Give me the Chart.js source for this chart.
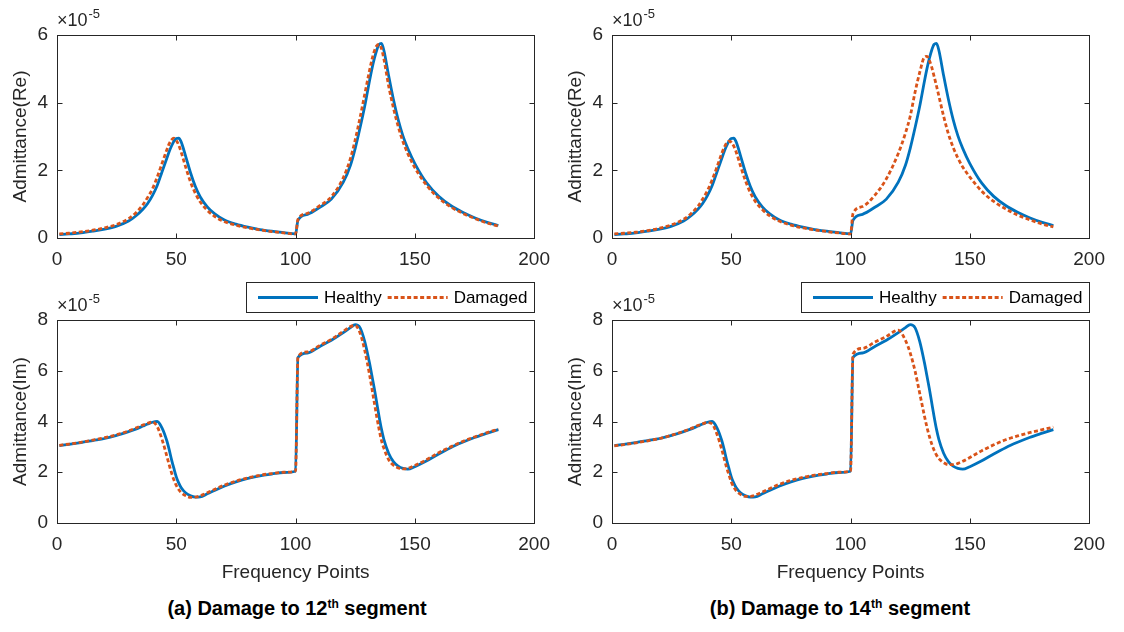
<!DOCTYPE html>
<html><head><meta charset="utf-8">
<script src="https://cdn.jsdelivr.net/npm/chart.js@4.4.0/dist/chart.umd.min.js"></script>
<style>
html,body{margin:0;padding:0;background:#fff;width:1124px;height:632px;overflow:hidden;}
canvas{position:absolute;}
.caption{position:absolute;font-family:"Liberation Sans",Arial,Helvetica,sans-serif;font-weight:bold;font-size:20px;color:#000;white-space:nowrap;transform:translateX(-50%);line-height:24px;}
.caption sup{font-size:12px;position:relative;top:-0.6em;vertical-align:baseline;line-height:0;}
</style></head><body>
<canvas id="c1" width="560" height="270" style="left:0;top:0"></canvas>
<canvas id="c2" width="560" height="270" style="left:555px;top:0"></canvas>
<canvas id="c3" width="560" height="320" style="left:0;top:270px"></canvas>
<canvas id="c4" width="560" height="320" style="left:555px;top:270px"></canvas>
<div class="caption" style="left:297px;top:596px">(a) Damage to 12<sup>th</sup> segment</div>
<div class="caption" style="left:840px;top:596px">(b) Damage to 14<sup>th</sup> segment</div>
<script>
// Frequency points (x) shared by all series
const freqPoints = [1,5,10,15,20,25,30,33,36,38,40,42,44,46,47,48,49,50,51,52,54,56,58,60,63,66,70,75,80,85,90,95,100,
  101,105,110,115,120,123,125,127,129,131,132,133,134,135,136,137,139,141,143,145,147,150,155,160,165,170,175,180,185];
// Values in units of 1e-5
const healthyRe = [0.10,0.12,0.15,0.20,0.26,0.35,0.50,0.65,0.85,1.02,1.25,1.55,1.95,2.35,2.55,2.72,2.86,2.94,2.95,2.85,2.40,1.92,1.52,1.22,0.92,0.72,0.54,0.41,0.32,0.25,0.20,0.16,0.12,
  0.52,0.70,0.90,1.15,1.65,2.15,2.65,3.25,3.90,4.65,5.00,5.30,5.55,5.72,5.75,5.55,4.80,4.10,3.50,3.02,2.65,2.20,1.62,1.23,0.96,0.76,0.60,0.47,0.37];
const damaged12Re = [0.12,0.14,0.18,0.23,0.30,0.40,0.57,0.74,0.98,1.20,1.45,1.80,2.20,2.60,2.78,2.90,2.95,2.88,2.75,2.55,2.08,1.65,1.32,1.07,0.82,0.64,0.49,0.38,0.30,0.24,0.19,0.15,0.12,
  0.55,0.73,0.95,1.22,1.78,2.35,2.90,3.55,4.25,4.95,5.27,5.52,5.68,5.72,5.60,5.30,4.50,3.85,3.30,2.85,2.50,2.08,1.55,1.18,0.92,0.73,0.58,0.45,0.35];
const damaged14Re = [0.12,0.14,0.17,0.22,0.29,0.39,0.55,0.71,0.94,1.15,1.40,1.72,2.10,2.50,2.67,2.80,2.86,2.83,2.72,2.55,2.10,1.68,1.34,1.09,0.84,0.66,0.50,0.38,0.30,0.24,0.19,0.15,0.12,
  0.72,0.93,1.25,1.75,2.50,3.10,3.60,4.30,4.90,5.35,5.37,5.25,5.05,4.78,4.50,4.20,3.60,3.08,2.68,2.36,2.10,1.80,1.38,1.08,0.86,0.68,0.54,0.42,0.33];
const healthyIm = [3.05,3.10,3.17,3.25,3.33,3.45,3.60,3.70,3.82,3.90,3.97,4.00,3.75,3.25,2.90,2.50,2.15,1.82,1.58,1.40,1.18,1.07,1.02,1.03,1.15,1.28,1.45,1.62,1.76,1.86,1.93,1.99,2.04,
  6.52,6.70,6.95,7.20,7.50,7.70,7.82,7.70,7.15,6.30,5.80,5.30,4.75,4.20,3.70,3.30,2.75,2.42,2.24,2.15,2.12,2.22,2.45,2.72,2.97,3.18,3.37,3.53,3.68];
const damaged12Im = [3.06,3.11,3.18,3.27,3.36,3.48,3.63,3.74,3.86,3.93,3.98,3.80,3.30,2.65,2.30,1.98,1.70,1.48,1.32,1.20,1.07,1.01,1.02,1.07,1.19,1.32,1.49,1.65,1.78,1.88,1.95,2.00,2.05,
  6.55,6.74,6.99,7.24,7.55,7.74,7.78,7.50,6.80,5.85,5.30,4.75,4.20,3.70,3.25,2.95,2.50,2.28,2.17,2.13,2.15,2.27,2.50,2.77,3.00,3.21,3.39,3.55,3.70];
const damaged14Im = [3.04,3.09,3.16,3.24,3.33,3.46,3.61,3.72,3.84,3.91,3.96,3.90,3.50,2.90,2.55,2.20,1.90,1.62,1.42,1.28,1.12,1.05,1.05,1.10,1.22,1.35,1.52,1.68,1.80,1.89,1.95,2.00,2.05,
  6.65,6.88,7.12,7.35,7.60,7.20,6.70,6.00,5.10,4.20,3.78,3.42,3.12,2.87,2.68,2.54,2.38,2.30,2.30,2.35,2.43,2.58,2.85,3.08,3.28,3.43,3.56,3.67,3.78];
const seriesNames = ['Healthy','Damaged'];
const exponentLabel = '-5';
const xTitle = 'Frequency Points';
const yTitles = ['Admittance(Re)','Admittance(Im)'];

const FONT = '"Liberation Sans", Arial, Helvetica, sans-serif';
const AXIS = '#262626';
const BLUE = '#0072BD';
const ORANGE = '#D95319';

const matlabBox = {
  id:'matlabBox',
  afterDatasetsDraw(chart){
    const {ctx, chartArea:a, scales:{x,y}} = chart;
    ctx.save();
    ctx.strokeStyle = AXIS; ctx.lineWidth = 1;
    const L = Math.round(a.left)+0.5, T = Math.round(a.top)+0.5, R = Math.round(a.right)+0.5, B = Math.round(a.bottom)+0.5;
    ctx.strokeRect(L, T, R-L, B-T);
    const tl = 5;
    ctx.beginPath();
    x.ticks.forEach(t=>{ const px = Math.round(x.getPixelForValue(t.value))+0.5;
      ctx.moveTo(px,B); ctx.lineTo(px,B-tl); ctx.moveTo(px,T); ctx.lineTo(px,T+tl); });
    y.ticks.forEach(t=>{ const py = Math.round(y.getPixelForValue(t.value))+0.5;
      ctx.moveTo(L,py); ctx.lineTo(L+tl,py); ctx.moveTo(R,py); ctx.lineTo(R-tl,py); });
    ctx.stroke();
    ctx.fillStyle = AXIS;
    ctx.font = '18px '+FONT; ctx.textBaseline = 'alphabetic'; ctx.textAlign = 'left';
    const base = a.top - 9;
    ctx.fillText('\u00d710', a.left, base);
    const w = ctx.measureText('\u00d710').width;
    ctx.font = '13px '+FONT;
    ctx.fillText(exponentLabel, a.left + w + 1, base - 8);
    ctx.restore();
  }
};

const boxLegend = {
  id:'boxLegend',
  afterDraw(chart, args, opts){
    if(!opts.show) return;
    const {ctx, chartArea:a} = chart;
    ctx.save();
    ctx.font = '17px '+FONT;
    const items = chart.data.datasets;
    let W = 12;
    items.forEach(ds=>{ W += 60 + 6 + ctx.measureText(ds.label).width + 6; });
    W += 1;
    const H = 30, right = Math.round(a.right), left = right - Math.round(W), top = opts.top;
    ctx.fillStyle = '#fff'; ctx.fillRect(left, top, right-left, H);
    ctx.strokeStyle = AXIS; ctx.lineWidth = 1; ctx.strokeRect(left+0.5, top+0.5, right-left, H);
    const cy = top + H/2 + 0.5;
    ctx.textBaseline = 'middle'; ctx.textAlign = 'left';
    let xx = left + 12;
    items.forEach(ds=>{
      ctx.strokeStyle = ds.borderColor; ctx.lineWidth = ds.borderWidth; ctx.setLineDash(ds.borderDash||[]);
      ctx.beginPath(); ctx.moveTo(xx,cy); ctx.lineTo(xx+60,cy); ctx.stroke();
      ctx.setLineDash([]);
      xx += 66;
      ctx.fillStyle = '#000';
      ctx.fillText(ds.label, xx, cy+1);
      xx += ctx.measureText(ds.label).width + 6;
    });
    ctx.restore();
  }
};

function pts(vals){ return freqPoints.map((x,i)=>({x:x, y:vals[i]})); }

function makeChart(id, healthy, damaged, yMax, yTitle, isBottom){
  new Chart(document.getElementById(id), {
    type:'line',
    data:{datasets:[
      {label:seriesNames[0], data:pts(healthy), borderColor:BLUE, borderWidth:2.8, pointRadius:0, cubicInterpolationMode:'monotone', fill:false, order:1},
      {label:seriesNames[1], data:pts(damaged), borderColor:ORANGE, borderWidth:2.8, borderDash:[4,2.5], pointRadius:0, cubicInterpolationMode:'monotone', fill:false, order:0}
    ]},
    options:{
      responsive:false, animation:false, events:[],
      layout:{padding:{top:isBottom?50:35, right:15, left:0, bottom:0}},
      plugins:{legend:{display:false}, tooltip:{enabled:false}, boxLegend:{show:isBottom, top:12}},
      scales:{
        x:{type:'linear', min:0, max:200,
           afterFit(s){ s.height = isBottom?67:32; },
           grid:{display:false, drawTicks:false}, border:{display:false},
           ticks:{stepSize:50, padding:10, color:AXIS, font:{family:FONT, size:19}},
           title:{display:isBottom, text:xTitle, color:AXIS, font:{family:FONT, size:19}, padding:{top:0, bottom:6}}},
        y:{type:'linear', min:0, max:yMax,
           afterFit(s){ s.width = 57; },
           grid:{display:false, drawTicks:false}, border:{display:false},
           ticks:{stepSize:2, padding:9, color:AXIS, font:{family:FONT, size:19}},
           title:{display:true, text:yTitle, color:AXIS, font:{family:FONT, size:19}, padding:{top:9, bottom:0}}}
      }
    },
    plugins:[matlabBox, boxLegend]
  });
}

makeChart('c1', healthyRe, damaged12Re, 6, yTitles[0], false);
makeChart('c2', healthyRe, damaged14Re, 6, yTitles[0], false);
makeChart('c3', healthyIm, damaged12Im, 8, yTitles[1], true);
makeChart('c4', healthyIm, damaged14Im, 8, yTitles[1], true);
</script>
</body></html>
